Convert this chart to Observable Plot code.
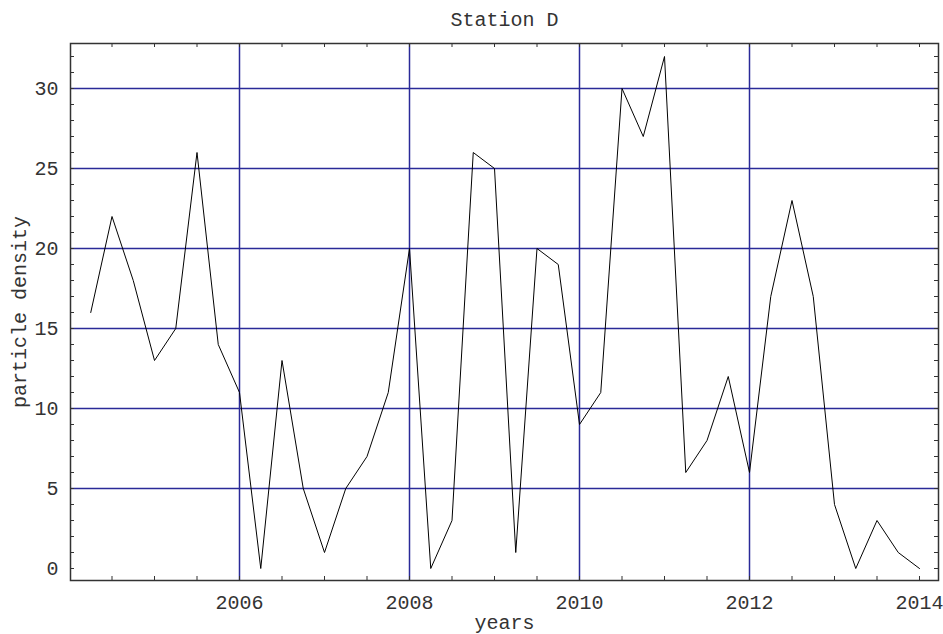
<!DOCTYPE html>
<html><head><meta charset="utf-8">
<script src="https://cdn.jsdelivr.net/npm/d3@7"></script>
<script src="https://cdn.jsdelivr.net/npm/@observablehq/plot@0.6"></script>
<style>body{margin:0;background:#fff}#chart svg{display:block}</style>
</head><body><div id="chart"></div>
<script>
const years = [2004.25,2004.5,2004.75,2005,2005.25,2005.5,2005.75,2006,2006.25,2006.5,2006.75,2007,2007.25,2007.5,2007.75,2008,2008.25,2008.5,2008.75,2009,2009.25,2009.5,2009.75,2010,2010.25,2010.5,2010.75,2011,2011.25,2011.5,2011.75,2012,2012.25,2012.5,2012.75,2013,2013.25,2013.5,2013.75,2014];
const density = [16,22,18,13,15,26,14,11,0,13,5,1,5,7,11,20,0,3,26,25,1,20,19,9,11,30,27,32,6,8,12,6,17,23,17,4,0,3,1,0];
const xTickLabels = [2006,2008,2010,2012,2014];
const yTickLabels = [0,5,10,15,20,25,30];
const xGrid = [2006,2008,2010,2012];
const yGrid = [5,10,15,20,25,30];
const xMinorTicks = [2004.5,2005,2005.5,2006,2006.5,2007,2007.5,2008,2008.5,2009,2009.5,2010,2010.5,2011,2011.5,2012,2012.5,2013,2013.5,2014];
const yMinorTicks = [0,1,2,3,4,5,6,7,8,9,10,11,12,13,14,15,16,17,18,19,20,21,22,23,24,25,26,27,28,29,30,31,32];
const title = "Station D";
const xLabel = "years";
const yLabel = "particle density";

const data = years.map((y, i) => ({year: y, density: density[i]}));

const W = 943, H = 634, mL = 70, mR = 5, mT = 43, mB = 54;
const pw = W - mL - mR, ph = H - mT - mB;
const gridColor = "#2a2a98";
const textColor = "#333";
const tk = 4;

const chart = Plot.plot({
  width: W, height: H,
  marginLeft: mL, marginRight: mR, marginTop: mT, marginBottom: mB,
  style: {fontFamily: "'Liberation Mono', 'Courier New', monospace", fontSize: "20px", color: textColor, background: "#fff"},
  x: {domain: [2004 + 1 / 85, 2014 + 19 / 85]},
  y: {domain: [-0.75, 32.8125]},
  marks: [
    Plot.ruleX(xGrid, {stroke: gridColor, strokeWidth: 1.5}),
    Plot.ruleY(yGrid, {stroke: gridColor, strokeWidth: 1.5}),
    // inward minor ticks
    Plot.ruleX(xMinorTicks, {stroke: "#333", insetTop: ph - tk}),
    Plot.ruleX(xMinorTicks, {stroke: "#333", insetBottom: ph - tk}),
    Plot.ruleY(yMinorTicks, {stroke: "#333", insetRight: pw - tk}),
    Plot.ruleY(yMinorTicks, {stroke: "#333", insetLeft: pw - tk}),
    Plot.line(data, {x: "year", y: "density", stroke: "#000", strokeWidth: 1}),
    Plot.frame({stroke: "#333", strokeWidth: 1.5}),
    Plot.axisX(xTickLabels, {anchor: "bottom", tickSize: 0, tickPadding: 14, label: null, tickFormat: d => String(d), fill: textColor}),
    Plot.axisY(yTickLabels, {anchor: "left", tickSize: 0, tickPadding: 12, label: null, tickFormat: d => String(d), fill: textColor}),
    Plot.text([title], {frameAnchor: "top", lineAnchor: "middle", textAnchor: "middle", dy: -24, fill: textColor}),
    Plot.text([xLabel], {frameAnchor: "bottom", lineAnchor: "middle", textAnchor: "middle", dy: 42, fill: textColor}),
    Plot.text([yLabel], {frameAnchor: "left", lineAnchor: "middle", textAnchor: "middle", dx: -51, rotate: -90, fill: textColor})
  ]
});
document.getElementById("chart").appendChild(chart);
</script>
</body></html>
